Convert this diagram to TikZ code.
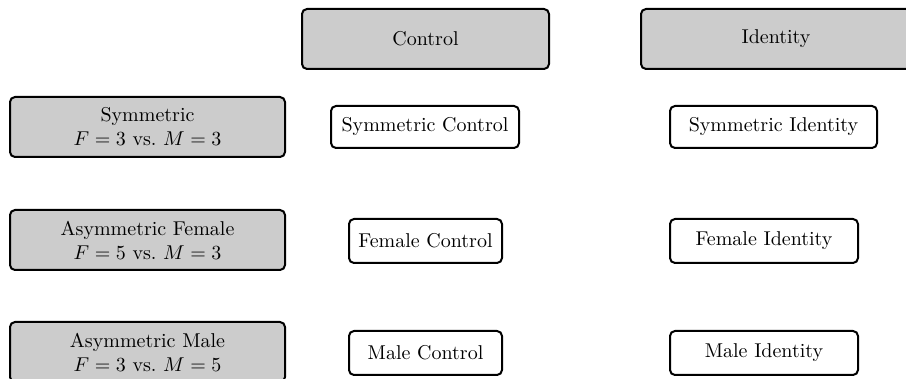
\documentclass[tikz,border=0pt]{standalone}
\begin{document}
\begin{tikzpicture}[x=0.5pt,y=-0.5pt,
  box/.style={draw=black, line width=1pt, rounded corners=2.5pt, align=center, inner sep=0pt, font=\fontsize{10}{12}\selectfont},
  head/.style={box, fill=gray!40},
  cell/.style={box, fill=white}]
\useasboundingbox (0,0) rectangle (906,379);
% column headers
\node[head, minimum width=123.5pt, minimum height=30pt] (ctrl) at (425.5,39) {Control};
\node[head, minimum width=135pt, minimum height=30pt] (ident) at (776,39) {Identity};
% row headers
\node[head, minimum width=137.5pt, minimum height=30pt] (sym) at (147.5,127) {Symmetric\\$F=3$ vs.\ $M=3$};
\node[head, minimum width=137.5pt, minimum height=30pt] (fem) at (147.5,240) {Asymmetric Female\\$F=5$ vs.\ $M=3$};
\node[head, minimum width=137.5pt, minimum height=30pt] (mal) at (147.5,352) {Asymmetric Male\\$F=3$ vs.\ $M=5$};
% cells
\node[cell, minimum width=94pt, minimum height=21pt] (symc) at (425,127) {Symmetric Control};
\node[cell, minimum width=103.5pt, minimum height=21pt] (symi) at (773.5,127) {Symmetric Identity};
\node[cell, minimum width=76.5pt, minimum height=22pt] (femc) at (425.5,241) {Female Control};
\node[cell, minimum width=94pt, minimum height=22pt] (femi) at (764,241) {Female Identity};
\node[cell, minimum width=76.5pt, minimum height=22pt] (malc) at (425.5,353) {Male Control};
\node[cell, minimum width=94pt, minimum height=22pt] (mali) at (764,353) {Male Identity};
\end{tikzpicture}
\end{document}
